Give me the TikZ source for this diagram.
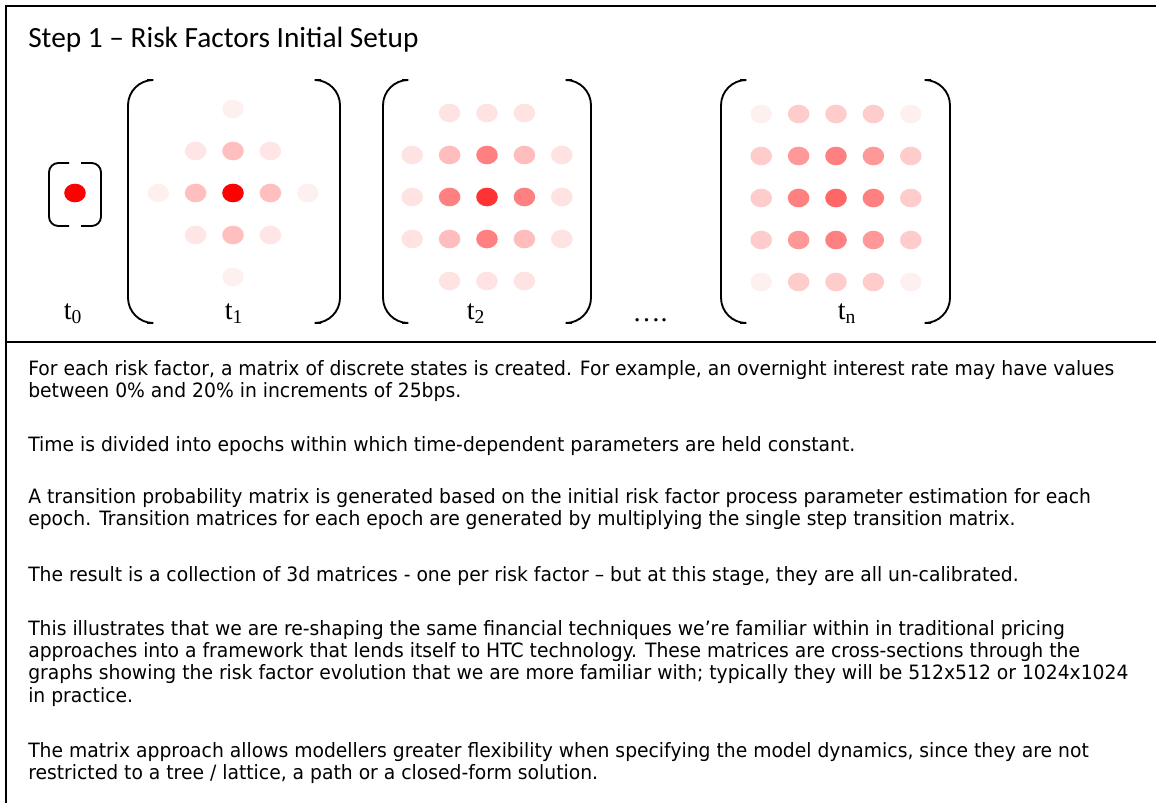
\documentclass[tikz,border=0pt]{standalone}
\usepackage{fontspec}
\usetikzlibrary{shapes.geometric}
\newfontfamily\titlefont{Carlito}
\newfontfamily\bodyfont[FakeStretch=0.95]{DejaVu Sans}
\newfontfamily\labelfont{Liberation Serif}

\tikzset{
  frameline/.style={line width=1.5pt},
  bracketline/.style={line width=1.4pt},
  dot/.style={ellipse,draw=none,inner sep=0pt,minimum width=16.2pt,minimum height=14pt},
  para/.style={anchor=north west,align=left,inner sep=0pt,
    font=\bodyfont\fontsize{14.8}{16.7}\selectfont},
  tlabel/.style={anchor=base,inner sep=0pt,font=\labelfont\fontsize{21}{24}\selectfont}
}

% left x, right x, top, bottom, arm length, corner radius
\newcommand\matbrackets[6]{%
  \draw[bracketline,rounded corners=#6] ({#1+#5},#3) -- (#1,#3) -- (#1,#4) -- ({#1+#5},#4);
  \draw[bracketline,rounded corners=#6] ({#2-#5},#3) -- (#2,#3) -- (#2,#4) -- ({#2-#5},#4);}

% name, centre x, centre y, rows of red shades (0 = no dot)
\newcommand\dotgrid[4]{%
  \foreach \row [count=\i] in {#4} {
    \foreach \shade [count=\j] in \row {
      \ifnum\shade>0
        \node[dot,fill=red!\shade!white] (#1-\i-\j) at ({#2+(\j-3)*37.4},{#3+(\i-3)*42}) {};
      \fi
    }
  }}

\begin{document}
\begin{tikzpicture}[x=0.75pt,y=-0.75pt]
\useasboundingbox (0,0) rectangle (1156,803);

\draw[frameline] (6,803) -- (6,6) -- (1156,6);
\draw[frameline] (6,342) -- (1156,342);

\node[anchor=base west,inner sep=0pt,font=\titlefont\fontsize{22}{26}\selectfont]
  (title) at (28,47) {Step 1 – Risk Factors Initial Setup};

% matrices
\matbrackets{49}{101}{163}{226}{20}{7}
\node[dot,fill=red] (t0-1-1) at (75,193) {};

\matbrackets{128}{340}{80}{323}{19}{19}
\dotgrid{t1}{233}{193}{{0,0,6,0,0},{0,10,25,10,0},{6,25,100,25,6},{0,10,25,10,0},{0,0,6,0,0}}

\matbrackets{383}{591}{80}{323}{19}{19}
\dotgrid{t2}{487}{197}{{0,11,11,11,0},{11,26,50,26,11},{11,50,80,50,11},{11,26,50,26,11},{0,11,11,11,0}}

\matbrackets{721}{950}{80}{323}{19}{19}
\dotgrid{tn}{836}{198}{{6,20,20,20,6},{20,40,50,40,20},{20,50,60,50,20},{20,40,50,40,20},{6,20,20,20,6}}

\node[tlabel] (l0) at (73,319) {t\textsubscript{0}};
\node[tlabel] (l1) at (234,319) {t\textsubscript{1}};
\node[tlabel] (l2) at (476,319) {t\textsubscript{2}};
\node[tlabel] (ln) at (847,319) {t\textsubscript{n}};
\node[tlabel] (more) at (650,321) {….};

% text
\node[para] (p1) at (28,360) {For each risk factor, a matrix of discrete states is created. For example, an overnight interest rate may have values\\
between 0\% and 20\% in increments of 25bps.};
\node[para] (p2) at (28,436) {Time is divided into epochs within which time-dependent parameters are held constant.};
\node[para] (p3) at (28,488) {A transition probability matrix is generated based on the initial risk factor process parameter estimation for each\\
epoch. Transition matrices for each epoch are generated by multiplying the single step transition matrix.};
\node[para] (p4) at (28,566) {The result is a collection of 3d matrices - one per risk factor – but at this stage, they are all un-calibrated.};
\node[para] (p5) at (28,620) {This illustrates that we are re-shaping the same financial techniques we’re familiar within in traditional pricing\\
approaches into a framework that lends itself to HTC technology. These matrices are cross-sections through the\\
graphs showing the risk factor evolution that we are more familiar with; typically they will be 512x512 or 1024x1024\\
in practice.};
\node[para] (p6) at (28,742) {The matrix approach allows modellers greater flexibility when specifying the model dynamics, since they are not\\
restricted to a tree / lattice, a path or a closed-form solution.};
\end{tikzpicture}
\end{document}
